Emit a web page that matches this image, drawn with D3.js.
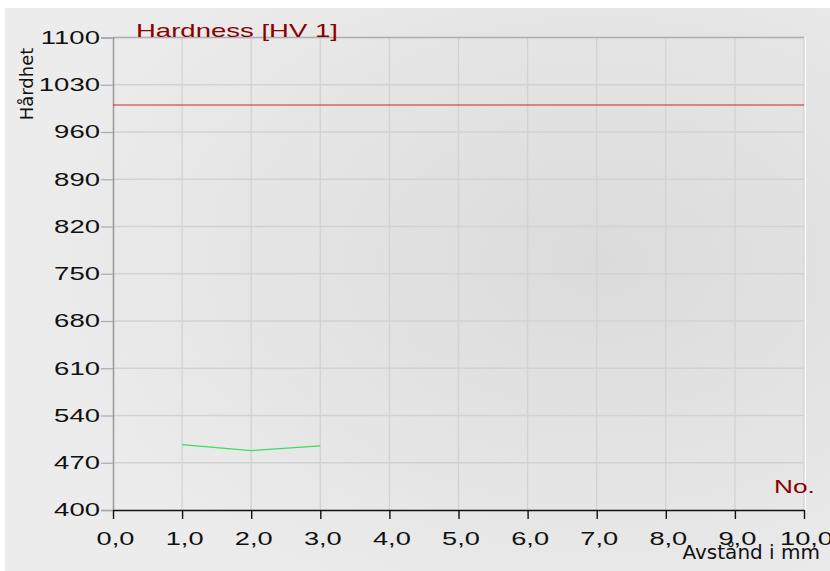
<!DOCTYPE html>
<html><head><meta charset="utf-8">
<script src="https://cdn.jsdelivr.net/npm/d3@7"></script>
<style>body{margin:0;background:#fff}svg{display:block}</style>
</head><body><svg id="c" width="830" height="571"></svg>
<script>
const xTicks = [0,1,2,3,4,5,6,7,8,9,10];
const yTicks = [400,470,540,610,680,750,820,890,960,1030,1100];
const limitValue = 1000;
const seriesX = [1,2,3];
const seriesY = [497,488,495];

const SX = 1.48;
const FONT = 'Liberation Sans, Arial, sans-serif';
const svg = d3.select('#c');
const defs = svg.append('defs');
const rg = defs.append('radialGradient').attr('id','bg').attr('cx','0.72').attr('cy','0.45').attr('r','0.7');
rg.append('stop').attr('offset','0').attr('stop-color','#dbdbdb');
rg.append('stop').attr('offset','1').attr('stop-color','#ececec');
svg.append('rect').attr('x',5).attr('y',8).attr('width',825).attr('height',563).attr('fill','url(#bg)');

const m = {l:113, r:804, t:37.5, b:510};
const x = d3.scaleLinear().domain([0,10]).range([m.l,m.r]);
const y = d3.scaleLinear().domain([400,1100]).range([m.b,m.t]);

svg.append('rect').attr('x',m.r).attr('y',m.t).attr('width',2).attr('height',m.b-m.t).attr('fill','#fff');

// grid
svg.append('g').selectAll('line').data(xTicks.slice(1)).join('line')
  .attr('x1',d=>x(d)).attr('x2',d=>x(d)).attr('y1',m.t).attr('y2',m.b)
  .attr('stroke','#d2d2d2').attr('stroke-width',1.3);
svg.append('g').selectAll('line').data(yTicks.slice(1)).join('line')
  .attr('x1',m.l).attr('x2',m.r).attr('y1',d=>y(d)).attr('y2',d=>y(d))
  .attr('stroke','#d2d2d2').attr('stroke-width',1.3);
svg.append('line').attr('x1',m.l).attr('x2',m.r).attr('y1',m.t).attr('y2',m.t).attr('stroke','#b0b0b0').attr('stroke-width',1.3);

// y axis
const ya = svg.append('g').attr('transform',`translate(${m.l},0)`)
  .call(d3.axisLeft(y).tickValues(yTicks).tickSize(12).tickPadding(1).tickFormat(d3.format('d')));
ya.select('.domain').attr('stroke','#999').attr('stroke-width',1.5);
ya.selectAll('.tick line').attr('stroke','#aaa').attr('stroke-width',1.2);
ya.selectAll('text').attr('font-family',FONT).attr('font-size',18.6).attr('fill','#111')
  .attr('x',0).attr('transform',`translate(-13,0) scale(${SX},1)`);

// x axis
const xa = svg.append('g').attr('transform',`translate(0,${m.b})`)
  .call(d3.axisBottom(x).tickValues(xTicks).tickSize(9).tickSizeOuter(0).tickPadding(9).tickFormat(d=>d.toFixed(1).replace('.',',')));
xa.select('.domain').attr('stroke','#111').attr('stroke-width',1.5);
xa.selectAll('.tick line').attr('stroke','#111').attr('stroke-width',1.4);
xa.selectAll('text').attr('font-family',FONT).attr('font-size',18.4).attr('fill','#111')
  .attr('y',0).attr('dy',0).attr('transform',`translate(2,35) scale(${SX},1)`);

// limit line
svg.append('line').attr('x1',m.l).attr('x2',m.r).attr('y1',y(limitValue)).attr('y2',y(limitValue))
  .attr('stroke','#d82020').attr('stroke-width',1.2);

// series
svg.append('path').datum(seriesX.map((d,i)=>[d,seriesY[i]]))
  .attr('d',d3.line().x(d=>x(d[0])).y(d=>y(d[1])))
  .attr('fill','none').attr('stroke','#3ddc5a').attr('stroke-width',1.3);

// labels
svg.append('text').attr('transform',`translate(136,37) scale(${SX},1)`).text('Hardness [HV 1]')
  .attr('font-family',FONT).attr('font-size',18.6).attr('fill','#8b0000');
svg.append('text').attr('transform',`translate(774,493) scale(1.38,1)`).text('No.')
  .attr('font-family',FONT).attr('font-size',19).attr('fill','#8b0000');
svg.append('text').attr('x',820).attr('y',559).attr('text-anchor','end').text('Avstånd i mm')
  .attr('font-family','DejaVu Sans, sans-serif').attr('font-size',20).attr('fill','#111');
svg.append('text').attr('transform','translate(33,84) rotate(-90)').attr('text-anchor','middle').text('Hårdhet')
  .attr('font-family','DejaVu Sans, sans-serif').attr('font-size',18).attr('fill','#111');
</script></body></html>
